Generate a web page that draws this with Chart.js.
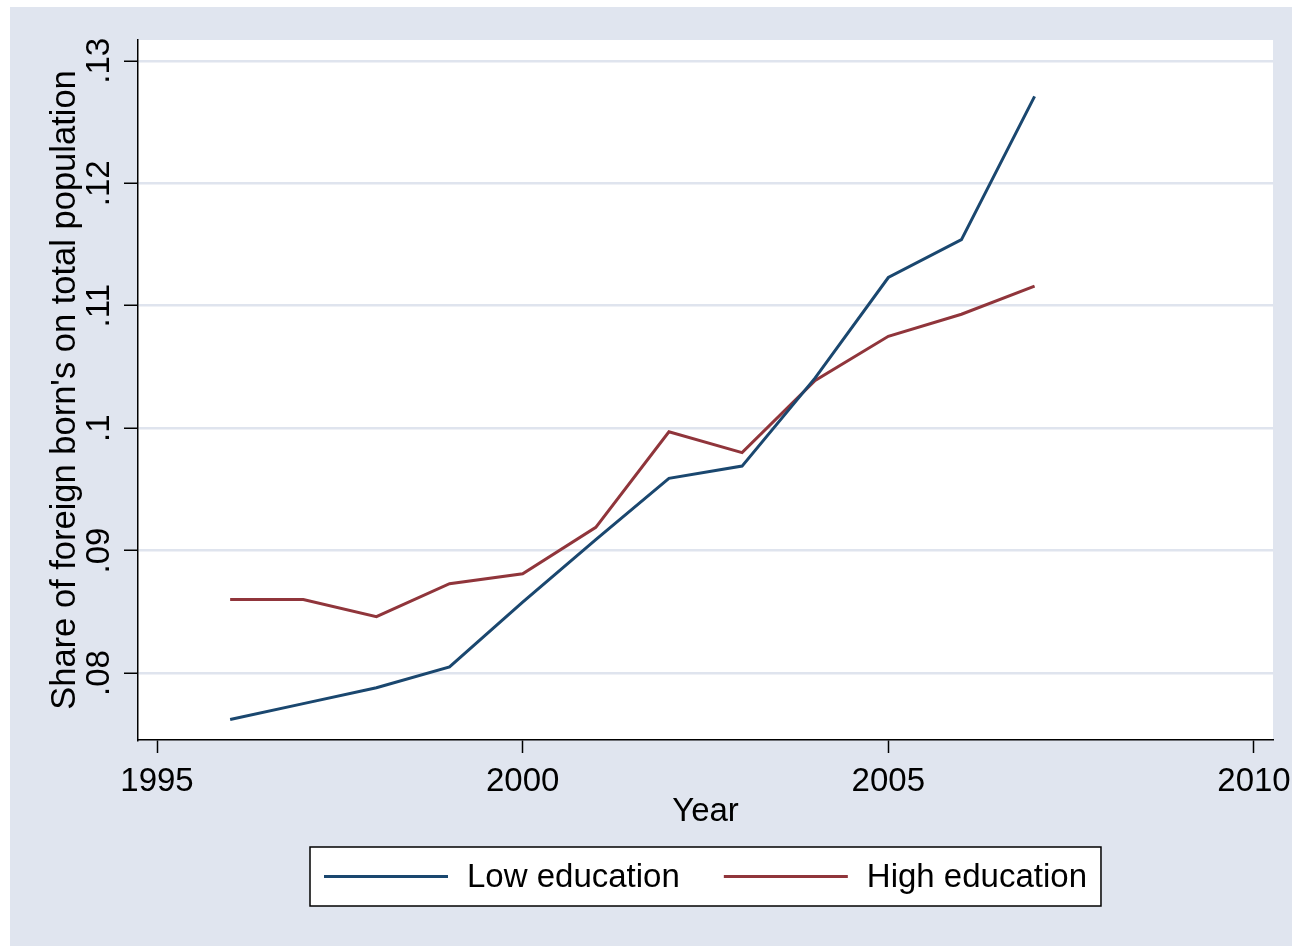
<!DOCTYPE html>
<html>
<head>
<meta charset="utf-8">
<script src="https://cdn.jsdelivr.net/npm/chart.js@4/dist/chart.umd.min.js"></script>
<style>
  html, body { margin: 0; padding: 0; background: #ffffff; }
  #wrap { position: absolute; left: 10px; top: 7px; width: 1282px; height: 939px; }
</style>
</head>
<body>
<div id="wrap"><canvas id="chart"></canvas></div>
<script>
// values
const years = [1996, 1997, 1998, 1999, 2000, 2001, 2002, 2003, 2004, 2005, 2006, 2007];
const lowEducation = [0.0762, 0.0775, 0.0788, 0.0805, 0.0858, 0.0909, 0.0959, 0.0969, 0.1041, 0.1123, 0.1154, 0.1271];
const highEducation = [0.0860, 0.0860, 0.0846, 0.0873, 0.0881, 0.0919, 0.0997, 0.0980, 0.1039, 0.1075, 0.1093, 0.1116];
const xTicks = [1995, 2000, 2005, 2010];
const yTicks = [0.08, 0.09, 0.10, 0.11, 0.12, 0.13];
const yTickLabels = ['.08', '.09', '.1', '.11', '.12', '.13'];

const FONT = 'Liberation Sans, Arial, Helvetica, sans-serif';
const BG = '#e0e5ef';
const NAVY = '#1a476f';
const MAROON = '#90353b';

function toPoints(values) {
    return years.map((yr, i) => ({ x: yr, y: values[i] }));
}

// paint the light blue graph region
const backgroundPlugin = {
    id: 'background',
    beforeDraw(chart) {
        const ctx = chart.ctx;
        const a = chart.chartArea;
        ctx.save();
        ctx.fillStyle = BG;
        ctx.fillRect(0, 0, chart.width, chart.height);
        ctx.fillStyle = '#ffffff';
        ctx.fillRect(a.left, a.top, a.right - a.left, a.bottom - a.top);
        ctx.restore();
    }
};

// boxed legend under the x axis title
const boxLegendPlugin = {
    id: 'boxLegend',
    afterDraw(chart) {
        const ctx = chart.ctx;
        const a = chart.chartArea;
        const sets = chart.data.datasets;
        ctx.save();
        ctx.font = '33px ' + FONT;
        const lineLen = 124, gap = 19, itemGap = 44, padL = 14, padR = 14;
        let total = padL + padR;
        sets.forEach((ds, i) => {
            total += lineLen + gap + ctx.measureText(ds.label).width;
            if (i > 0) total += itemGap;
        });
        const boxTop = 840, boxH = 59;
        const boxLeft = Math.round((a.left + a.right) / 2 - total / 2);
        ctx.fillStyle = '#ffffff';
        ctx.fillRect(boxLeft, boxTop, total, boxH);
        ctx.strokeStyle = '#000000';
        ctx.lineWidth = 1.5;
        ctx.strokeRect(boxLeft, boxTop, total, boxH);

        const midY = boxTop + boxH / 2;
        let x = boxLeft + padL;
        sets.forEach((ds, i) => {
            if (i > 0) x += itemGap;
            ctx.strokeStyle = ds.borderColor;
            ctx.lineWidth = 3;
            ctx.beginPath();
            ctx.moveTo(x, midY);
            ctx.lineTo(x + lineLen, midY);
            ctx.stroke();
            x += lineLen + gap;
            ctx.fillStyle = '#000000';
            ctx.textBaseline = 'middle';
            ctx.textAlign = 'left';
            ctx.fillText(ds.label, x, midY + 1);
            x += ctx.measureText(ds.label).width;
        });
        ctx.restore();
    }
};

new Chart(document.getElementById('chart'), {
    type: 'line',
    data: {
        datasets: [
            {
                label: 'Low education',
                data: toPoints(lowEducation),
                borderColor: NAVY,
                borderWidth: 3,
                pointRadius: 0,
                tension: 0,
                fill: false
            },
            {
                label: 'High education',
                data: toPoints(highEducation),
                borderColor: MAROON,
                borderWidth: 3,
                pointRadius: 0,
                tension: 0,
                fill: false
            }
        ]
    },
    options: {
        responsive: true,
        maintainAspectRatio: false,
        animation: false,
        layout: {
            padding: { left: 0, right: 19, top: 33, bottom: 113 }
        },
        plugins: {
            legend: { display: false },
            tooltip: { enabled: false }
        },
        scales: {
            x: {
                type: 'linear',
                min: 1994.74,
                max: 2010.26,
                afterBuildTicks: (scale) => {
                    scale.ticks = xTicks.map(v => ({ value: v }));
                },
                afterFit: (scale) => {
                    scale.height = 93;
                    scale.paddingLeft = 0;
                    scale.paddingRight = 0;
                },
                grid: {
                    drawOnChartArea: false,
                    drawTicks: true,
                    tickLength: 13,
                    tickColor: '#000000',
                    tickWidth: 1.5
                },
                border: { display: true, color: '#000000', width: 1.5 },
                ticks: {
                    color: '#000000',
                    font: { family: FONT, size: 33 },
                    padding: 9,
                    maxRotation: 0,
                    autoSkip: false,
                    callback: (v) => String(v)
                },
                title: {
                    display: true,
                    text: 'Year',
                    color: '#000000',
                    font: { family: FONT, size: 33 },
                    padding: { top: 0, bottom: 1 }
                }
            },
            y: {
                type: 'linear',
                min: 0.07453,
                max: 0.1317,
                afterBuildTicks: (scale) => {
                    scale.ticks = yTicks.map(v => ({ value: v }));
                },
                afterFit: (scale) => {
                    scale.width = 128;
                    scale.paddingTop = 0;
                    scale.paddingBottom = 0;
                },
                grid: {
                    color: '#dfe4ee',
                    lineWidth: 2.5,
                    drawTicks: true,
                    tickLength: 14,
                    tickColor: '#000000',
                    tickWidth: 1.5
                },
                border: { display: true, color: '#000000', width: 1.5 },
                ticks: {
                    color: '#000000',
                    font: { family: FONT, size: 33 },
                    padding: 1,
                    minRotation: 90,
                    maxRotation: 90,
                    crossAlign: 'center',
                    autoSkip: false,
                    callback: (v) => {
                        const i = yTicks.findIndex(t => Math.abs(t - v) < 1e-9);
                        return i >= 0 ? yTickLabels[i] : '';
                    }
                },
                title: {
                    display: true,
                    text: "Share of foreign born's on total population",
                    color: '#000000',
                    font: { family: FONT, size: 34.5 },
                    padding: { top: 35, bottom: 0 }
                }
            }
        }
    },
    plugins: [backgroundPlugin, boxLegendPlugin]
});
</script>
</body>
</html>
